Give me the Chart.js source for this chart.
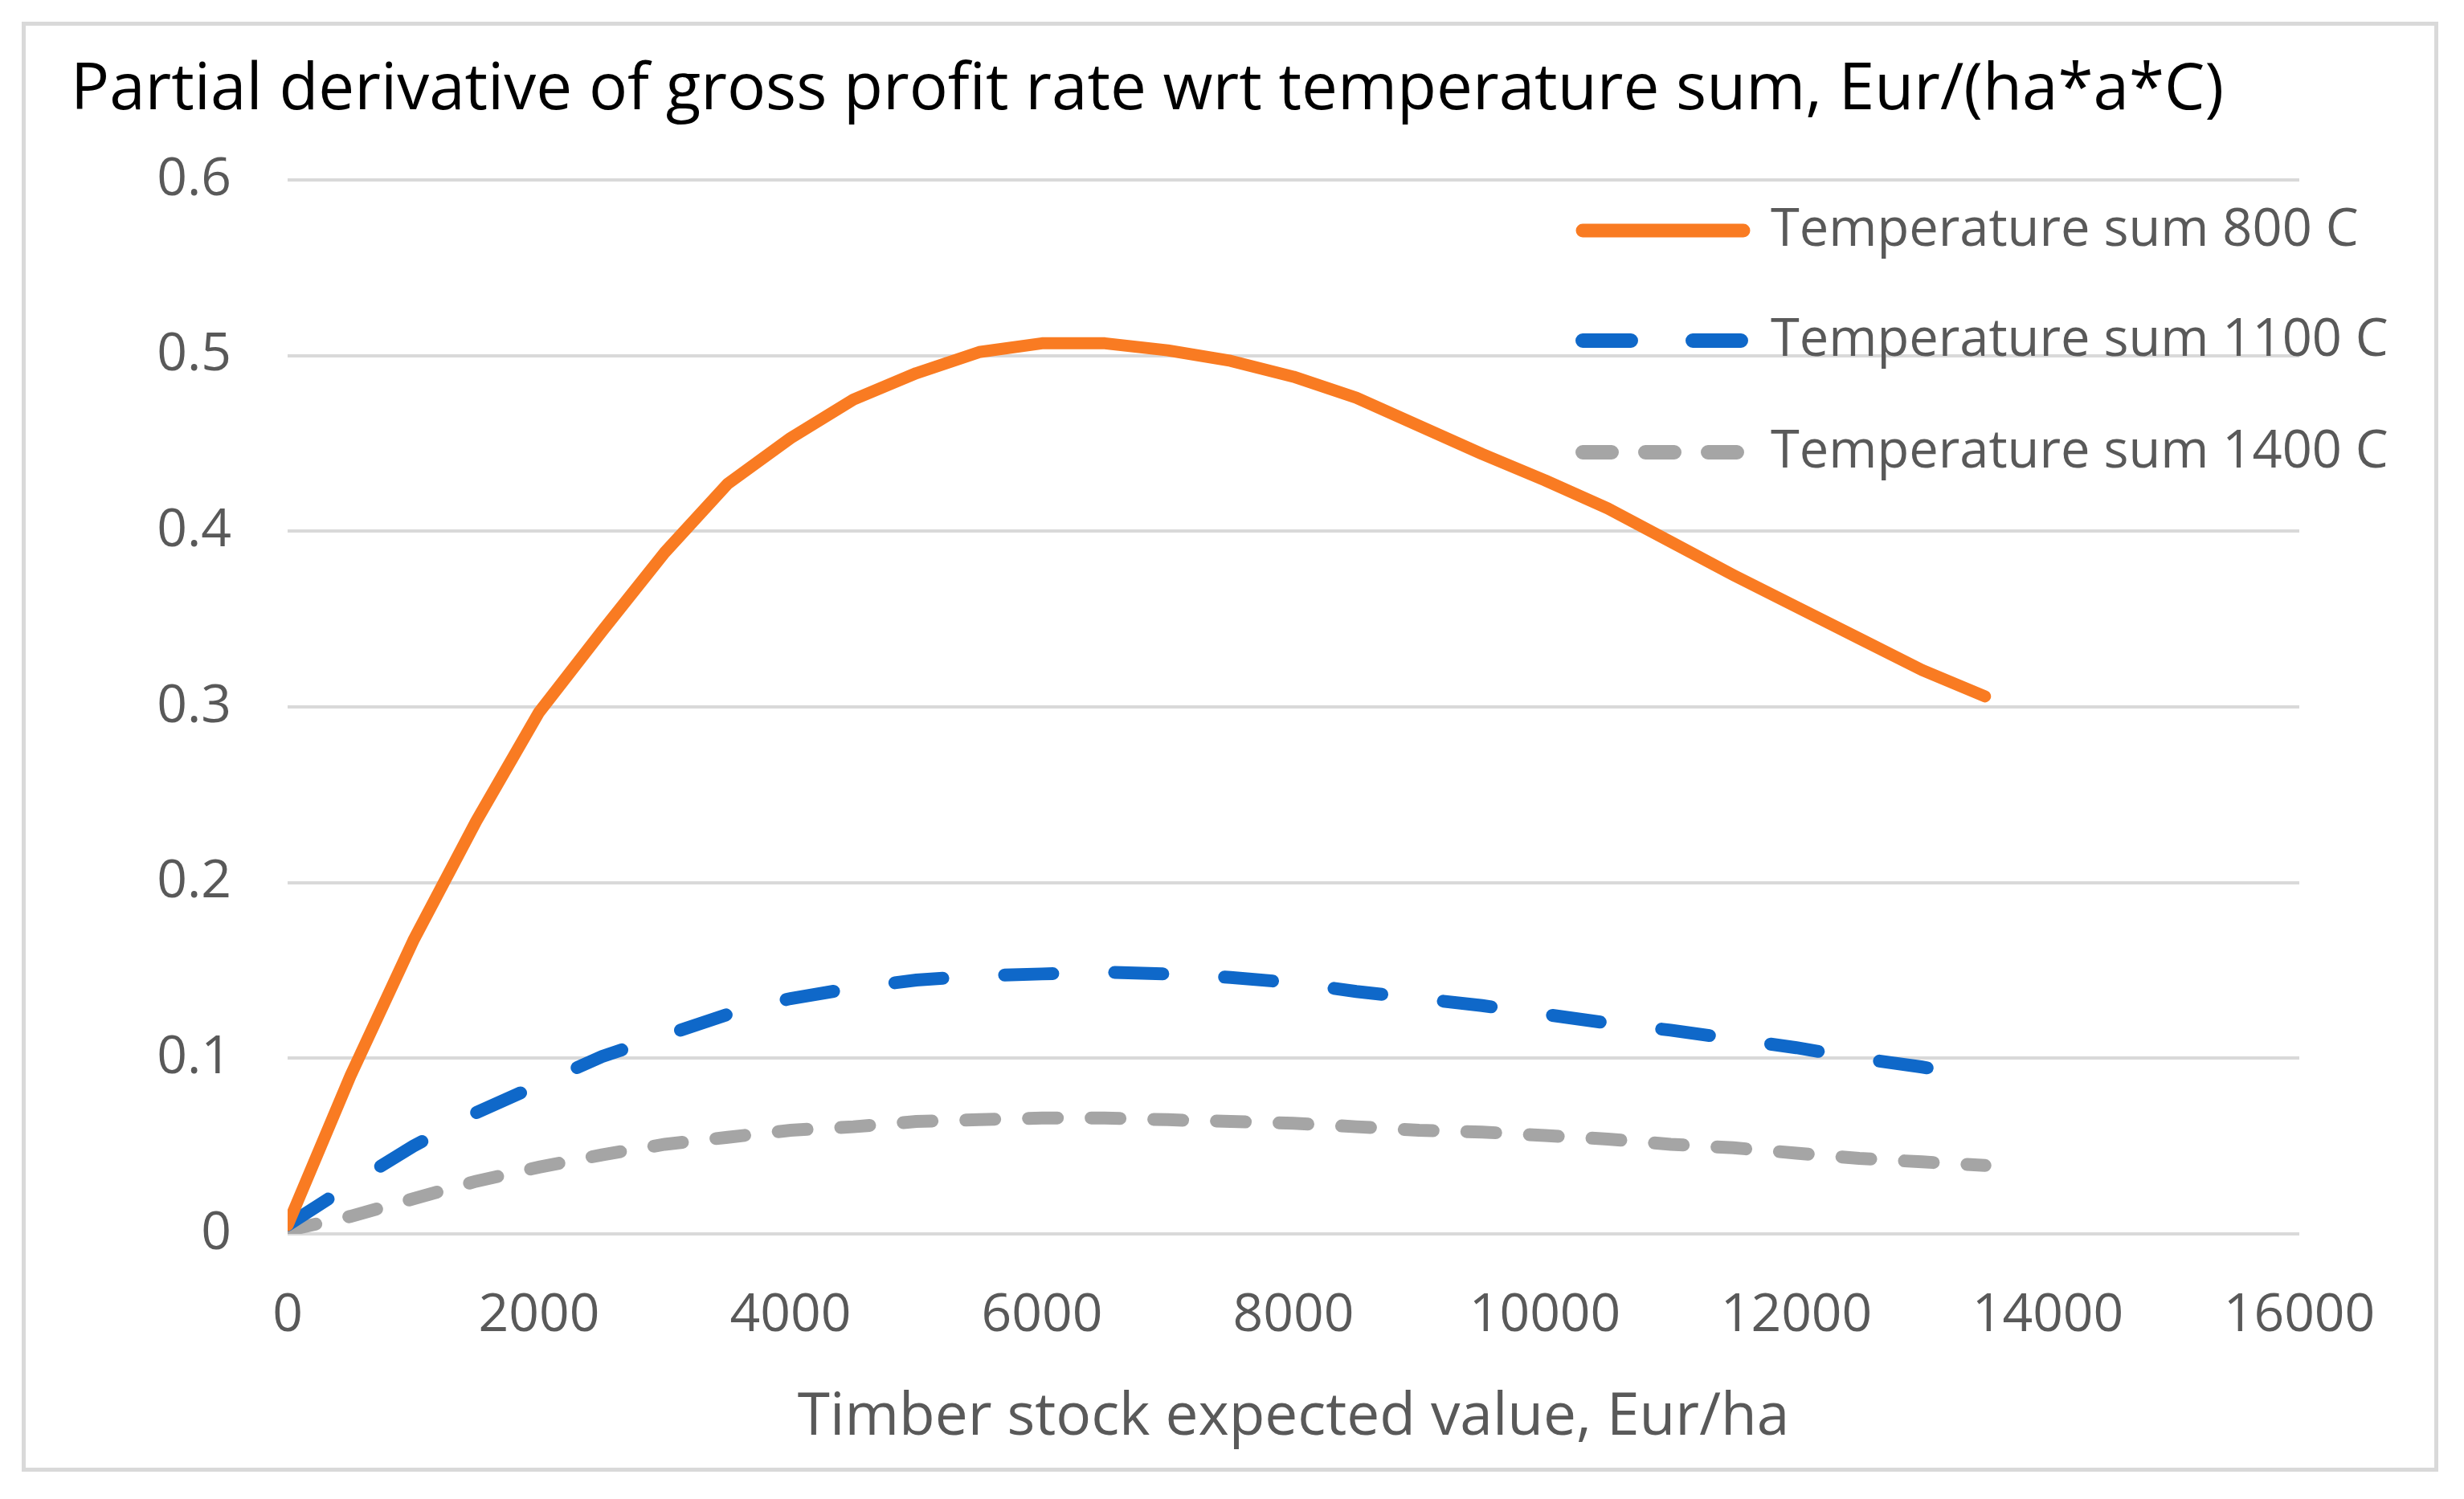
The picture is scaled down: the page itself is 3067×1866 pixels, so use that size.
<!DOCTYPE html>
<html>
<head>
<meta charset="utf-8">
<script src="https://cdn.jsdelivr.net/npm/chart.js@4.4.1/dist/chart.umd.min.js"></script>
<style>
  html, body { margin: 0; padding: 0; background: #fff; }
  #marco { position: absolute; left: 27px; top: 27px; width: 2998px; height: 1795px; border: 5px solid #d9d9d9; }
  #grafica { position: absolute; left: 0; top: 0; }
</style>
</head>
<body>
<div id="marco"></div>
<canvas id="grafica" width="3067" height="1866"></canvas>
<script>
// eje x: valor esperado del stock de madera (Eur/ha)
const xValues = [0, 500, 1000, 1500, 2000, 2500, 3000, 3500, 4000, 4500, 5000, 5500, 6000, 6500,
  7000, 7500, 8000, 8500, 9000, 9500, 10000, 10500, 11000, 11500, 12000, 12500, 13000, 13500];

// series
const temp800 = [0.005, 0.09, 0.167, 0.235, 0.297, 0.343, 0.388, 0.427, 0.453, 0.475, 0.490, 0.502, 0.507, 0.507,
  0.503, 0.497, 0.488, 0.476, 0.460, 0.444, 0.429, 0.413, 0.394, 0.375, 0.357, 0.339, 0.321, 0.306];
const temp1100 = [0.005, 0.028, 0.050, 0.069, 0.085, 0.101, 0.113, 0.125, 0.134, 0.140, 0.1445, 0.147, 0.148, 0.149,
  0.148, 0.146, 0.143, 0.138, 0.134, 0.130, 0.125, 0.120, 0.116, 0.111, 0.106, 0.100, 0.095, 0.089];
const temp1400 = [0.002, 0.010, 0.020, 0.030, 0.038, 0.045, 0.051, 0.055, 0.059, 0.061, 0.064, 0.065, 0.066, 0.066,
  0.065, 0.064, 0.063, 0.061, 0.059, 0.058, 0.056, 0.054, 0.051, 0.049, 0.046, 0.043, 0.041, 0.039];

const seriesLabels = ["Temperature sum 800 C", "Temperature sum 1100 C", "Temperature sum 1400 C"];
const xTickLabels = ["0", "2000", "4000", "6000", "8000", "10000", "12000", "14000", "16000"];
const yTickLabels = ["0", "0.1", "0.2", "0.3", "0.4", "0.5", "0.6"];

const grisTexto = "#595959";

function puntos(serie) {
  return xValues.map((x, i) => ({ x: x, y: serie[i] }));
}

// leyenda dibujada a mano, arriba a la derecha y encima de la rejilla
const leyenda = {
  id: "leyenda",
  afterDatasetsDraw(chart) {
    const ctx = chart.ctx;
    const filas = [287, 424, 563];
    chart.data.datasets.forEach((ds, i) => {
      const y = filas[i];
      ctx.save();
      ctx.strokeStyle = ds.borderColor;
      ctx.lineWidth = ds.borderWidth + 2;
      ctx.lineCap = "round";
      ctx.setLineDash(ds.borderDash || []);
      ctx.beginPath();
      ctx.moveTo(1970, y);
      ctx.lineTo(2170, y);
      ctx.stroke();
      ctx.setLineDash([]);
      ctx.fillStyle = grisTexto;
      ctx.font = '65px "Open Sans"';
      ctx.textBaseline = "middle";
      ctx.fillText(ds.label, 2204, y);
      ctx.restore();
    });
  }
};

const myChart = new Chart("grafica", {
  type: "line",
  data: {
    datasets: [
      {
        label: seriesLabels[0],
        data: puntos(temp800),
        borderColor: "#F97B22",
        borderWidth: 15,
        borderCapStyle: "round",
        borderJoinStyle: "round",
        pointRadius: 0,
        tension: 0
      },
      {
        label: seriesLabels[1],
        data: puntos(temp1100),
        borderColor: "#0F68C9",
        borderWidth: 16,
        borderDash: [60, 77],
        borderCapStyle: "round",
        pointRadius: 0,
        tension: 0
      },
      {
        label: seriesLabels[2],
        data: puntos(temp1400),
        borderColor: "#A5A5A5",
        borderWidth: 16,
        borderDash: [36, 42],
        borderCapStyle: "round",
        pointRadius: 0,
        tension: 0
      }
    ]
  },
  options: {
    responsive: false,
    animation: false,
    devicePixelRatio: 1,
    layout: { padding: { left: 88, right: 205, top: 40, bottom: 0 } },
    plugins: {
      legend: { display: false },
      tooltip: { enabled: false },
      title: {
        display: true,
        text: "Partial derivative of gross profit rate wrt temperature sum, Eur/(ha*a*C)",
        align: "start",
        color: "#000000",
        font: { family: "Open Sans", size: 80, weight: "normal" },
        padding: { top: 25, bottom: 63 }
      }
    },
    scales: {
      x: {
        type: "linear",
        min: 0,
        max: 16000,
        afterFit: (scale) => { scale.height = 330; },
        grid: { display: false },
        border: { display: false },
        ticks: {
          stepSize: 2000,
          padding: 55,
          color: grisTexto,
          font: { family: "Open Sans", size: 66 },
          maxRotation: 0,
          callback: (value, index) => xTickLabels[index]
        },
        title: {
          display: true,
          text: "Timber stock expected value, Eur/ha",
          color: grisTexto,
          font: { family: "Open Sans", size: 73 },
          padding: { top: 0, bottom: 57 }
        }
      },
      y: {
        min: 0,
        max: 0.6,
        afterFit: (scale) => { scale.width = 270; },
        grid: { color: "#D9D9D9", lineWidth: 4, drawTicks: false },
        border: { display: false },
        ticks: {
          stepSize: 0.1,
          padding: 70,
          color: grisTexto,
          font: { family: "Open Sans", size: 66 },
          callback: (value, index) => yTickLabels[index]
        }
      }
    }
  },
  plugins: [leyenda]
});
</script>
</body>
</html>
